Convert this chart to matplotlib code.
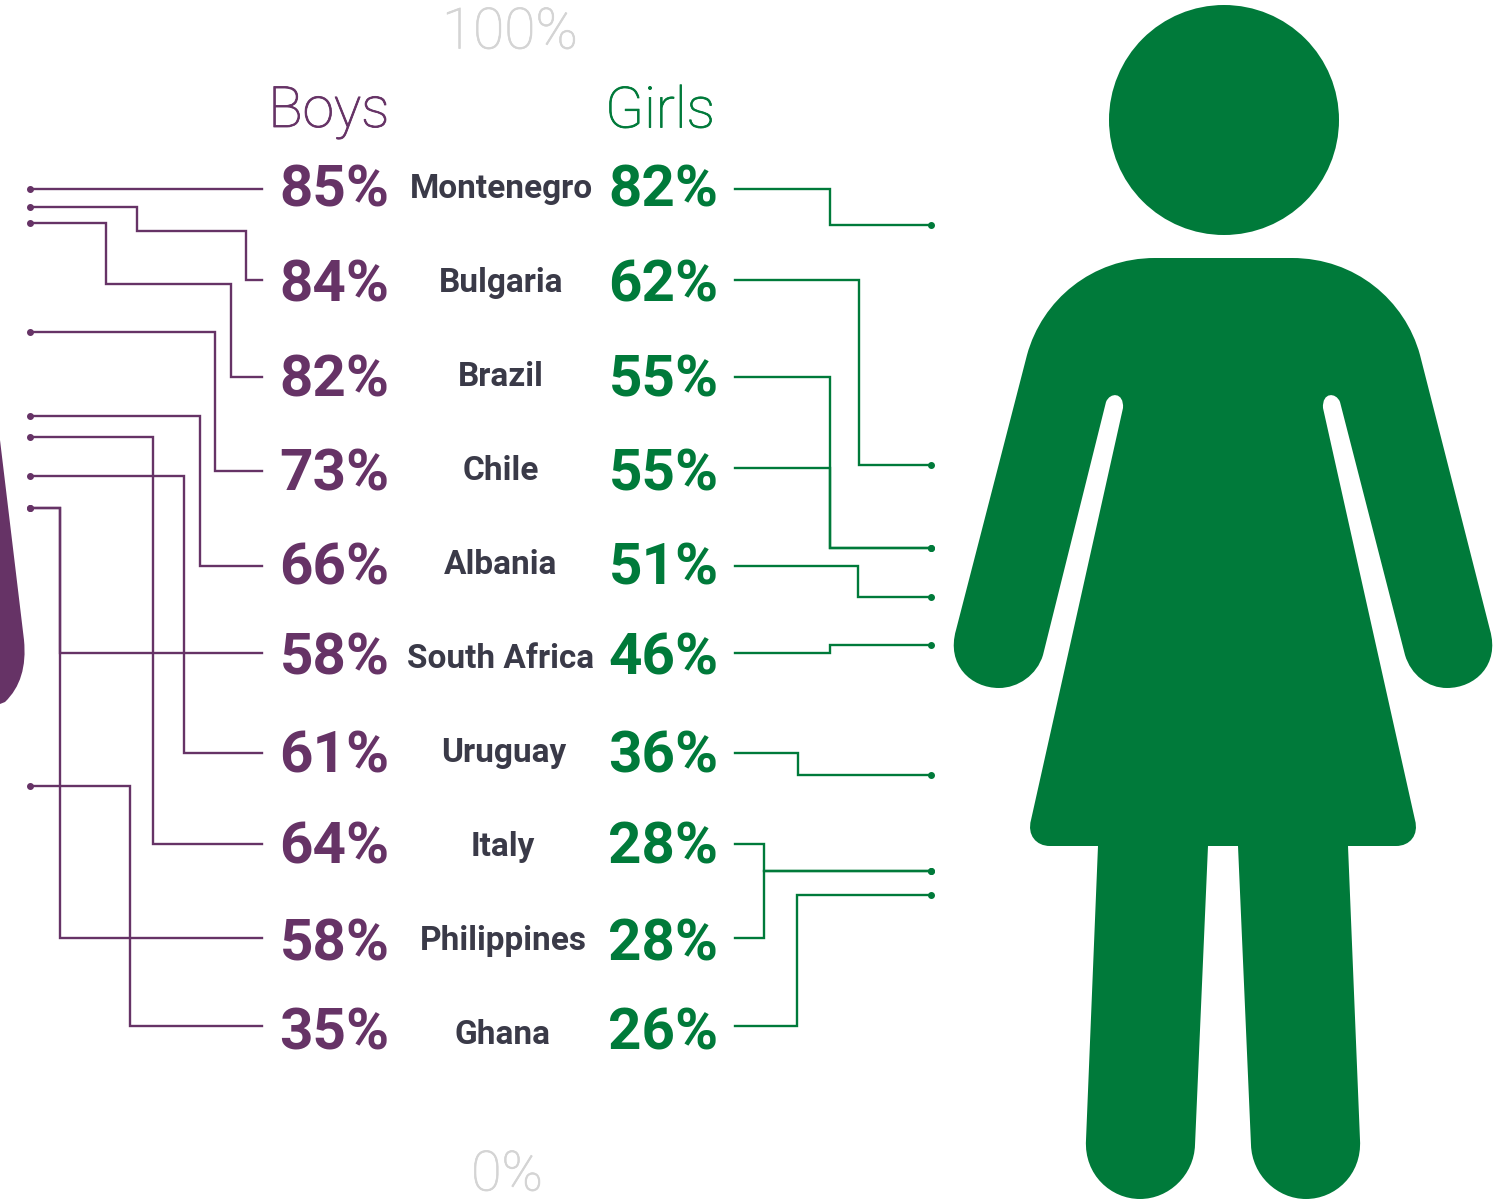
import matplotlib
matplotlib.use("Agg")
import matplotlib.pyplot as plt
import matplotlib.patheffects as pe
from matplotlib.path import Path
from matplotlib.patches import PathPatch, Circle

countries = ["Montenegro", "Bulgaria", "Brazil", "Chile", "Albania", "South Africa",
             "Uruguay", "Italy", "Philippines", "Ghana"]
boys = [85, 84, 82, 73, 66, 58, 61, 64, 58, 35]
girls = [82, 62, 55, 55, 51, 46, 36, 28, 28, 26]
# where each leader line meets the figure's 0-100% height scale
boys_level = [85.0, 83.5, 82.2, 73.05, 66.0, 58.3, 61.0, 64.3, 58.3, 35.05]
girls_level = [82.0, 61.9, 55.0, 55.0, 50.9, 46.9, 36.0, 27.95, 27.95, 25.9]

PURPLE = "#663366"
GREEN = "#007a3a"
DARK = "#3a3a48"
GREY = "#d4d4d4"
FONT = "Roboto"

W, H = 1509, 1199
fig = plt.figure(figsize=(W / 100, H / 100), dpi=100)
ax = fig.add_axes([0, 0, 1, 1])
ax.set_xlim(0, W)
ax.set_ylim(H, 0)
ax.axis("off")


def val_y(v):
    """Scale between the 0% and 100% marks of the figure's height."""
    return 1205 - 11.95 * v


row_y = [189, 280, 377, 468, 566, 653, 753, 844, 938, 1026]
label_y = [187, 281, 375, 469, 563, 657, 751, 845, 939, 1033]
label_x = [501, 501, 501, 501, 501, 501, 504, 503, 503, 503]
pct_y = [188, 283, 378, 472, 566, 656, 754, 845, 942, 1031]

boy_routes = [
    [],
    [(246, 280), (246, 231), (137, 231)],
    [(231, 377), (231, 284), (106, 284)],
    [(215, 471)],
    [(200, 566)],
    [(60, 653)],
    [(184, 753)],
    [(153, 844)],
    [(60, 938)],
    [(130, 1026)],
]
girl_routes = [
    [(830, 189)],
    [(859, 280)],
    [(830, 377)],
    [(830, 468)],
    [(858, 566)],
    [(830, 653)],
    [(798, 753)],
    [(764, 844)],
    [(764, 938)],
    [(797, 1026)],
]

for i, (b, g) in enumerate(zip(boys, girls)):
    by, gy = val_y(boys_level[i]), val_y(girls_level[i])
    pts = [(262, boy_routes[i][0][1] if boy_routes[i] else by)]
    pts += boy_routes[i]
    if boy_routes[i]:
        pts.append((boy_routes[i][-1][0], by))
    pts.append((30, by))
    ax.plot(*zip(*pts), color=PURPLE, lw=1.7, solid_joinstyle="miter", zorder=2)
    ax.plot([30], [by], "o", color=PURPLE, ms=4, zorder=3)

    pts = [(734.5, row_y[i])] + girl_routes[i] + [(girl_routes[i][-1][0], gy), (931, gy)]
    ax.plot(*zip(*pts), color=GREEN, lw=1.7, solid_joinstyle="miter", zorder=2)
    ax.plot([931], [gy], "o", color=GREEN, ms=4, zorder=3)

    ax.text(389.5, pct_y[i] + 3, f"{b}%", color=PURPLE, fontsize=42, fontweight="bold",
            family=FONT, ha="right", va="center")
    ax.text(608.5, pct_y[i] + 3, f"{g}%", color=GREEN, fontsize=42, fontweight="bold",
            family=FONT, ha="left", va="center")
    ax.text(label_x[i], label_y[i] + 2, countries[i], color=DARK, fontsize=24, fontweight="bold",
            family=FONT, ha="center", va="center")

thick = [pe.withStroke(linewidth=0.6, foreground=PURPLE)]
ax.text(329, 112, "Boys", color=PURPLE, fontsize=41, family=FONT, fontweight="light",
        ha="center", va="center", path_effects=thick)
thick = [pe.withStroke(linewidth=0.6, foreground=GREEN)]
ax.text(660, 112, "Girls", color=GREEN, fontsize=41, family=FONT, fontweight="light",
        ha="center", va="center", path_effects=thick)
thick = [pe.withStroke(linewidth=0.5, foreground=GREY)]
ax.text(510, 33, "100%", color=GREY, fontsize=41, family=FONT, fontweight="light",
        ha="center", va="center", path_effects=thick)
ax.text(507, 1175, "0%", color=GREY, fontsize=40, family=FONT, fontweight="light",
        ha="center", va="center", path_effects=thick)

# girl pictogram
ax.add_patch(Circle((1224, 120), 115, color=GREEN, lw=0, zorder=1))
M, L, C, Z = Path.MOVETO, Path.LINETO, Path.CURVE3, Path.CLOSEPOLY
C4 = Path.CURVE4
verts, codes = [], []


def mv(*p):
    verts.append(p); codes.append(M)


def ln(*p):
    verts.append(p); codes.append(L)


def cv(a, b, c):
    verts.extend([a, b, c]); codes.extend([C4, C4, C4])


mv(1155, 258)
ln(1292, 258)
cv((1355, 258), (1405, 300), (1420, 355))
ln(1490, 630)
cv((1500, 665), (1475, 688), (1447, 688))
cv((1428, 688), (1411, 675), (1405, 655))
ln(1340, 402)
cv((1336, 392), (1322, 392), (1323, 408))
ln(1415, 820)
cv((1419, 835), (1410, 846), (1396, 846))
ln(1348, 846)
ln(1360, 1140)
cv((1362, 1175), (1335, 1199), (1306, 1199))
cv((1277, 1199), (1252, 1175), (1251, 1145))
ln(1238, 846)
ln(1208, 846)
ln(1195, 1145)
cv((1194, 1175), (1169, 1199), (1140, 1199))
cv((1111, 1199), (1084, 1175), (1086, 1140))
ln(1098, 846)
ln(1050, 846)
cv((1036, 846), (1027, 835), (1031, 820))
ln(1123, 408)
cv((1124, 392), (1110, 392), (1106, 402))
ln(1043, 655)
cv((1037, 675), (1018, 688), (999, 688))
cv((971, 688), (946, 665), (956, 630))
ln(1027, 355)
cv((1042, 300), (1092, 258), (1155, 258))
verts.append((1155, 258)); codes.append(Z)
ax.add_patch(PathPatch(Path(verts, codes), facecolor=GREEN, edgecolor="none", zorder=1))

# edge of the neighbouring boy pictogram, cut by the frame
hand = Path([(-10, 410), (0, 440), (24, 640), (28, 680), (5, 702), (-10, 708), (-10, 410)],
            [M, L, L, C, C, L, Z])
ax.add_patch(PathPatch(hand, facecolor=PURPLE, edgecolor="none", zorder=1))

fig.savefig("out.png", dpi=100)
